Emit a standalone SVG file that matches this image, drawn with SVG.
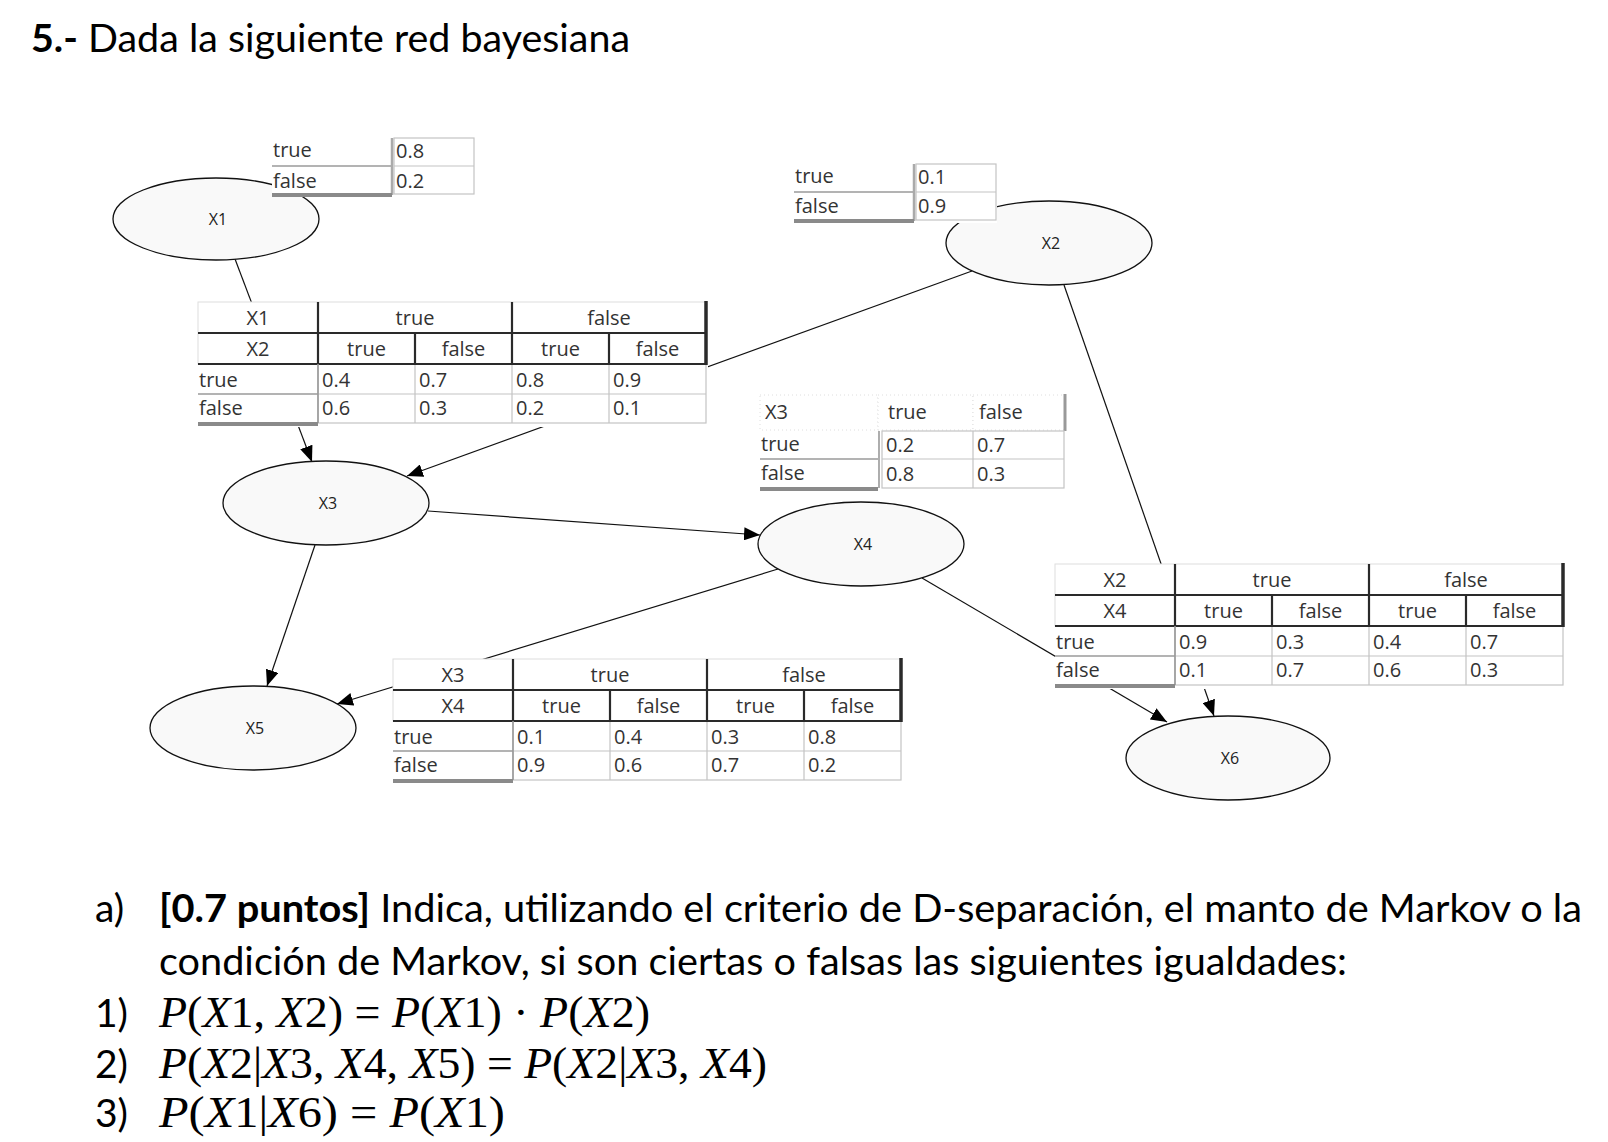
<svg xmlns="http://www.w3.org/2000/svg" xmlns:xlink="http://www.w3.org/1999/xlink" width="1608" height="1142" viewBox="0 0 1608 1142">
<style>
.t{font-family:'Open Sans','DejaVu Sans',sans-serif;font-size:20px;fill:#333}
.c{text-anchor:middle}
.lbl{font-family:'Open Sans','DejaVu Sans',sans-serif;font-size:16px;fill:#222;text-anchor:middle}
.node ellipse{fill:#f9f9f9;stroke:#111;stroke-width:1.3}
.edge{stroke:#111;stroke-width:1.2;fill:none;marker-end:url(#arr)}
.bg{fill:#fff;stroke:none}
.cell{fill:#fff;stroke:#c4c4c4;stroke-width:1.2}
.cl{stroke:#c4c4c4;stroke-width:1.2;fill:none}
.hdr{fill:#fff;stroke:#dedede;stroke-width:1}
.dk{stroke:#2a2a2a;stroke-width:2.2;fill:none}
.gl{stroke:#9a9a9a;stroke-width:1.6;fill:none}
.bar{stroke:#8a8a8a;stroke-width:4;fill:none}
.doc{font-family:Lato,'Open Sans',sans-serif;font-size:39px;fill:#000}
.b{font-weight:bold}
.m{font-family:'Liberation Serif','DejaVu Serif',serif;font-size:44px;fill:#000}
.mi{font-style:italic}
</style>
<defs>
<marker id="arr" viewBox="0 0 16 13" refX="16" refY="6.5" markerWidth="16" markerHeight="13" markerUnits="userSpaceOnUse" orient="auto">
<path d="M0,0 L16,6.5 L0,13 z" fill="#000"/>
</marker>
<g id="cpt4">
<rect x="0" y="0" width="510" height="125" class="bg"/>
<rect x="0" y="0" width="508" height="62" class="hdr"/>
<path d="M0,31H508" class="hdr"/>
<rect x="120" y="62" width="388" height="59" class="cell"/>
<path d="M120,92H508M217,62V121M314,62V121M411,62V121" class="cl"/>
<path d="M0,31H508M0,62H508M120,0V62M314,0V62M217,31V62M411,31V62" class="dk"/>
<path d="M508,-1V63" stroke="#2a2a2a" stroke-width="3.5"/>
<path d="M0,92H120M120,62V121" class="gl"/>
<path d="M0,122H120" class="bar"/>
</g>
<g id="cpt2">
<rect x="0" y="0" width="307" height="96" class="bg"/>
<rect x="0" y="0" width="118" height="35" class="hdr" stroke-dasharray="1 3"/>
<rect x="118" y="0" width="95" height="35" class="hdr" stroke-dasharray="1 3"/>
<rect x="213" y="0" width="92" height="35" class="hdr" stroke-dasharray="1 3"/>
<path d="M305,-1V36" stroke="#999" stroke-width="3"/>
<rect x="122" y="36" width="182" height="57" class="cell"/>
<path d="M122,64H304M213,36V93" class="cl"/>
<path d="M0,64H118M119,36V93" class="gl"/>
<path d="M0,94H118" class="bar"/>
</g>
<g id="prior">
<rect x="0" y="0" width="203" height="59" class="bg"/>
<rect x="122" y="0" width="80" height="56" class="cell"/>
<path d="M122,28H202" class="cl"/>
<path d="M0,28H120" class="gl"/>
<path d="M120,0V57" stroke="#aaa" stroke-width="2.5"/>
<path d="M0,57H120" class="bar"/>
</g>
</defs>
<rect width="1608" height="1142" fill="#fff"/>

<text class="doc" x="31" y="52" font-size="42" textLength="599" lengthAdjust="spacingAndGlyphs"><tspan class="b">5.-</tspan> Dada la siguiente red bayesiana</text>

<g id="connectors">
<line class="edge" x1="235" y1="259" x2="312" y2="462"/>
<line class="edge" x1="972" y1="271" x2="407" y2="476"/>
<line class="edge" x1="428" y1="511" x2="760" y2="535"/>
<line class="edge" x1="315" y1="545" x2="267" y2="686"/>
<line class="edge" x1="778" y1="569" x2="337" y2="704"/>
<line class="edge" x1="1064" y1="285" x2="1214" y2="716"/>
<line class="edge" x1="922" y1="578" x2="1167" y2="722"/>
</g>

<g id="node-X1" class="node">
<ellipse cx="216" cy="219" rx="103" ry="41"/>
<text class="lbl" x="218" y="225">X1</text>
<g transform="translate(272,138)">
<use xlink:href="#prior"/>
<text class="t" x="1" y="19">true</text>
<text class="t" x="1" y="50">false</text>
<text class="t" x="124" y="20">0.8</text>
<text class="t" x="124" y="50">0.2</text>
</g>
</g>

<g id="node-X2" class="node">
<ellipse cx="1049" cy="243" rx="103" ry="42"/>
<text class="lbl" x="1051" y="249">X2</text>
<g transform="translate(794,164)">
<use xlink:href="#prior"/>
<text class="t" x="1" y="19">true</text>
<text class="t" x="1" y="49">false</text>
<text class="t" x="124" y="20">0.1</text>
<text class="t" x="124" y="49">0.9</text>
</g>
</g>

<g id="node-X3" class="node">
<ellipse cx="326" cy="503" rx="103" ry="42"/>
<text class="lbl" x="328" y="509">X3</text>
<g transform="translate(198,302)">
<use xlink:href="#cpt4"/>
<text class="t c" x="60" y="23">X1</text>
<text class="t c" x="217" y="23">true</text>
<text class="t c" x="411" y="23">false</text>
<text class="t c" x="60" y="54">X2</text>
<text class="t c" x="168.5" y="54">true</text>
<text class="t c" x="265.5" y="54">false</text>
<text class="t c" x="362.5" y="54">true</text>
<text class="t c" x="459.5" y="54">false</text>
<text class="t" x="1" y="85">true</text>
<text class="t" x="1" y="113">false</text>
<text class="t" x="124" y="85">0.4</text><text class="t" x="221" y="85">0.7</text><text class="t" x="318" y="85">0.8</text><text class="t" x="415" y="85">0.9</text>
<text class="t" x="124" y="113">0.6</text><text class="t" x="221" y="113">0.3</text><text class="t" x="318" y="113">0.2</text><text class="t" x="415" y="113">0.1</text>
</g>
</g>

<g id="node-X4" class="node">
<ellipse cx="861" cy="544" rx="103" ry="42"/>
<text class="lbl" x="863" y="550">X4</text>
<g transform="translate(760,395)">
<use xlink:href="#cpt2"/>
<text class="t" x="5" y="24">X3</text>
<text class="t" x="128" y="24">true</text>
<text class="t" x="219" y="24">false</text>
<text class="t" x="1" y="56">true</text>
<text class="t" x="1" y="85">false</text>
<text class="t" x="126" y="57">0.2</text><text class="t" x="217" y="57">0.7</text>
<text class="t" x="126" y="86">0.8</text><text class="t" x="217" y="86">0.3</text>
</g>
</g>

<g id="node-X5" class="node">
<ellipse cx="253" cy="728" rx="103" ry="42"/>
<text class="lbl" x="255" y="734">X5</text>
<g transform="translate(393,659)">
<use xlink:href="#cpt4"/>
<text class="t c" x="60" y="23">X3</text>
<text class="t c" x="217" y="23">true</text>
<text class="t c" x="411" y="23">false</text>
<text class="t c" x="60" y="54">X4</text>
<text class="t c" x="168.5" y="54">true</text>
<text class="t c" x="265.5" y="54">false</text>
<text class="t c" x="362.5" y="54">true</text>
<text class="t c" x="459.5" y="54">false</text>
<text class="t" x="1" y="85">true</text>
<text class="t" x="1" y="113">false</text>
<text class="t" x="124" y="85">0.1</text><text class="t" x="221" y="85">0.4</text><text class="t" x="318" y="85">0.3</text><text class="t" x="415" y="85">0.8</text>
<text class="t" x="124" y="113">0.9</text><text class="t" x="221" y="113">0.6</text><text class="t" x="318" y="113">0.7</text><text class="t" x="415" y="113">0.2</text>
</g>
</g>

<g id="node-X6" class="node">
<ellipse cx="1228" cy="758" rx="102" ry="42"/>
<text class="lbl" x="1230" y="764">X6</text>
<g transform="translate(1055,564)">
<use xlink:href="#cpt4"/>
<text class="t c" x="60" y="23">X2</text>
<text class="t c" x="217" y="23">true</text>
<text class="t c" x="411" y="23">false</text>
<text class="t c" x="60" y="54">X4</text>
<text class="t c" x="168.5" y="54">true</text>
<text class="t c" x="265.5" y="54">false</text>
<text class="t c" x="362.5" y="54">true</text>
<text class="t c" x="459.5" y="54">false</text>
<text class="t" x="1" y="85">true</text>
<text class="t" x="1" y="113">false</text>
<text class="t" x="124" y="85">0.9</text><text class="t" x="221" y="85">0.3</text><text class="t" x="318" y="85">0.4</text><text class="t" x="415" y="85">0.7</text>
<text class="t" x="124" y="113">0.1</text><text class="t" x="221" y="113">0.7</text><text class="t" x="318" y="113">0.6</text><text class="t" x="415" y="113">0.3</text>
</g>
</g>

<g id="question">
<text class="doc" x="95" y="922">a)</text>
<text class="doc" x="159" y="922" textLength="1423" lengthAdjust="spacingAndGlyphs"><tspan class="b">[0.7 puntos]</tspan> Indica, utilizando el criterio de D-separación, el manto de Markov o la</text>
<text class="doc" x="159" y="975" textLength="1188" lengthAdjust="spacingAndGlyphs">condición de Markov, si son ciertas o falsas las siguientes igualdades:</text>
<text class="doc" x="95" y="1027">1)</text>
<text class="m" x="159" y="1027" textLength="491" lengthAdjust="spacingAndGlyphs"><tspan class="mi">P</tspan>(<tspan class="mi">X</tspan>1, <tspan class="mi">X</tspan>2) = <tspan class="mi">P</tspan>(<tspan class="mi">X</tspan>1) · <tspan class="mi">P</tspan>(<tspan class="mi">X</tspan>2)</text>
<text class="doc" x="95" y="1078">2)</text>
<text class="m" x="159" y="1078" textLength="608" lengthAdjust="spacingAndGlyphs"><tspan class="mi">P</tspan>(<tspan class="mi">X</tspan>2|<tspan class="mi">X</tspan>3, <tspan class="mi">X</tspan>4, <tspan class="mi">X</tspan>5) = <tspan class="mi">P</tspan>(<tspan class="mi">X</tspan>2|<tspan class="mi">X</tspan>3, <tspan class="mi">X</tspan>4)</text>
<text class="doc" x="95" y="1127">3)</text>
<text class="m" x="159" y="1127" textLength="346" lengthAdjust="spacingAndGlyphs"><tspan class="mi">P</tspan>(<tspan class="mi">X</tspan>1|<tspan class="mi">X</tspan>6) = <tspan class="mi">P</tspan>(<tspan class="mi">X</tspan>1)</text>
</g>
</svg>
